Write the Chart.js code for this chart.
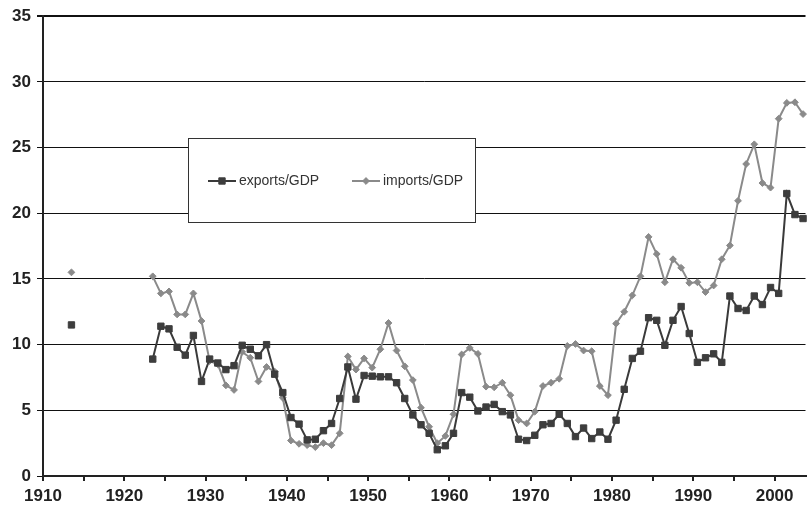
<!DOCTYPE html>
<html>
<head>
<meta charset="utf-8">
<script src="https://cdn.jsdelivr.net/npm/chart.js@4"></script>
<style>
  body { margin: 0; background: #fff; }
  canvas { display: block; }
</style>
</head>
<body>
<canvas id="tradeChart" width="811" height="508"></canvas>
<script>
// Years (1914 is a gap marker so the 1913 point stands alone)
const years = [1913, 1914,
  1923, 1924, 1925, 1926, 1927, 1928, 1929, 1930, 1931, 1932, 1933, 1934, 1935, 1936, 1937, 1938, 1939,
  1940, 1941, 1942, 1943, 1944, 1945, 1946, 1947, 1948, 1949, 1950, 1951, 1952, 1953, 1954, 1955, 1956,
  1957, 1958, 1959, 1960, 1961, 1962, 1963, 1964, 1965, 1966, 1967, 1968, 1969, 1970, 1971, 1972, 1973,
  1974, 1975, 1976, 1977, 1978, 1979, 1980, 1981, 1982, 1983, 1984, 1985, 1986, 1987, 1988, 1989, 1990,
  1991, 1992, 1993, 1994, 1995, 1996, 1997, 1998, 1999, 2000, 2001, 2002, 2003];

const exportsGDP = [11.5, null,
  8.9, 11.4, 11.2, 9.8, 9.2, 10.7, 7.2, 8.9, 8.6, 8.1, 8.4, 9.95, 9.65, 9.15, 10.0, 7.75, 6.35,
  4.45, 3.95, 2.75, 2.8, 3.45, 4.0, 5.9, 8.3, 5.85, 7.65, 7.6, 7.55, 7.55, 7.1, 5.9, 4.65, 3.9,
  3.25, 2.0, 2.3, 3.25, 6.35, 6.0, 4.95, 5.25, 5.45, 4.9, 4.65, 2.8, 2.7, 3.1, 3.9, 4.0, 4.7,
  4.0, 3.0, 3.65, 2.85, 3.35, 2.8, 4.25, 6.6, 8.95, 9.5, 12.05, 11.85, 9.95, 11.85, 12.9, 10.85, 8.65,
  9.0, 9.3, 8.65, 13.7, 12.75, 12.6, 13.7, 13.05, 14.35, 13.9, 21.5, 19.9, 19.6];

const importsGDP = [15.5, null,
  15.2, 13.9, 14.05, 12.3, 12.3, 13.9, 11.8, 8.75, 8.5, 6.9, 6.55, 9.45, 9.0, 7.2, 8.3, 7.95, 5.95,
  2.7, 2.45, 2.35, 2.2, 2.5, 2.35, 3.25, 9.1, 8.1, 8.95, 8.25, 9.65, 11.65, 9.55, 8.35, 7.3, 5.2,
  3.75, 2.5, 3.05, 4.7, 9.25, 9.75, 9.3, 6.8, 6.75, 7.1, 6.15, 4.25, 4.0, 4.9, 6.85, 7.1, 7.4,
  9.9, 10.05, 9.55, 9.5, 6.85, 6.15, 11.6, 12.5, 13.75, 15.2, 18.2, 16.9, 14.75, 16.5, 15.85, 14.7, 14.75,
  14.0, 14.5, 16.5, 17.55, 20.95, 23.75, 25.25, 22.3, 21.95, 27.2, 28.4, 28.45, 27.55];

// Tick labels
const xTickYears = [1910, 1915, 1920, 1925, 1930, 1935, 1940, 1945, 1950, 1955, 1960, 1965, 1970, 1975, 1980, 1985, 1990, 1995, 2000];
const xTickLabels = [1910, 1920, 1930, 1940, 1950, 1960, 1970, 1980, 1990, 2000];

const FONT = "'Liberation Sans', Arial, Helvetica, sans-serif";

const toPoints = vals => years.map((yr, i) => ({ x: yr, y: vals[i] }));

// Legend box drawn inside the plot area
const boxLegend = {
  id: 'boxLegend',
  afterDraw(chart) {
    const ctx = chart.ctx;
    const bx = 188, by = 138, bw = 287, bh = 84;
    ctx.save();
    ctx.fillStyle = '#fff';
    ctx.fillRect(bx, by, bw, bh);
    ctx.strokeStyle = '#333';
    ctx.lineWidth = 1;
    ctx.strokeRect(bx + 0.5, by + 0.5, bw, bh);

    const cy = by + 43;
    const items = [{ ds: chart.data.datasets[0], x: 208 }, { ds: chart.data.datasets[1], x: 352 }];
    items.forEach(it => {
      ctx.strokeStyle = it.ds.borderColor;
      ctx.lineWidth = 2;
      ctx.beginPath();
      ctx.moveTo(it.x, cy);
      ctx.lineTo(it.x + 28, cy);
      ctx.stroke();
      // marker
      ctx.fillStyle = it.ds.pointBackgroundColor;
      ctx.strokeStyle = it.ds.pointBorderColor;
      ctx.lineWidth = 1;
      Chart.helpers.drawPoint(ctx, {
        pointStyle: it.ds.pointStyle,
        radius: it.ds.pointRadius,
        borderWidth: 1
      }, it.x + 14, cy);
      ctx.fillStyle = '#333';
      ctx.font = '14px ' + FONT;
      ctx.textBaseline = 'middle';
      ctx.fillText(it.ds.label, it.x + 31, cy);
    });
    ctx.restore();
  }
};

const ctx = document.getElementById('tradeChart').getContext('2d');

new Chart(ctx, {
  type: 'line',
  data: {
    datasets: [{
      label: 'exports/GDP',
      data: toPoints(exportsGDP),
      borderColor: '#3a3a3a',
      backgroundColor: '#3a3a3a',
      pointBackgroundColor: '#3d3d3d',
      pointBorderColor: '#3d3d3d',
      borderWidth: 2,
      pointStyle: 'rect',
      pointRadius: 4.5,
      pointBorderWidth: 1,
      tension: 0,
      spanGaps: false,
      clip: false
    }, {
      label: 'imports/GDP',
      data: toPoints(importsGDP),
      borderColor: '#8a8a8a',
      backgroundColor: '#8a8a8a',
      pointBackgroundColor: '#8a8a8a',
      pointBorderColor: '#8a8a8a',
      borderWidth: 2,
      pointStyle: 'rectRot',
      pointRadius: 3.4,
      pointBorderWidth: 1,
      tension: 0,
      spanGaps: false,
      clip: false
    }]
  },
  options: {
    responsive: false,
    animation: false,
    layout: { padding: { top: 16, right: 0, left: 0, bottom: 0 } },
    plugins: {
      legend: { display: false },
      tooltip: { enabled: false }
    },
    scales: {
      x: {
        type: 'linear',
        min: 1909.5,
        max: 2003.3,
        afterBuildTicks: scale => {
          scale.ticks = xTickYears.map(y => ({ value: y - 0.5 }));
        },
        afterFit: scale => { scale.height = 32; },
        grid: {
          drawOnChartArea: false,
          tickLength: 5,
          color: '#222',
          lineWidth: 2
        },
        border: { display: true, color: '#222', width: 2 },
        ticks: {
          autoSkip: false,
          maxRotation: 0,
          padding: 5,
          color: '#222',
          font: { family: FONT, size: 17, weight: 'bold' },
          callback: v => {
            const yr = Math.round(v + 0.5);
            return xTickLabels.includes(yr) ? String(yr) : '';
          }
        }
      },
      y: {
        min: 0,
        max: 35,
        afterFit: scale => { scale.width = 43; },
        grid: {
          color: '#111',
          lineWidth: c => (c.tick && c.tick.value === 35 ? 2 : 1),
          tickLength: 6
        },
        border: { display: true, color: '#222', width: 2 },
        ticks: {
          stepSize: 5,
          padding: 6,
          color: '#222',
          font: { family: FONT, size: 17, weight: 'bold' }
        }
      }
    }
  },
  plugins: [boxLegend]
});
</script>
</body>
</html>
